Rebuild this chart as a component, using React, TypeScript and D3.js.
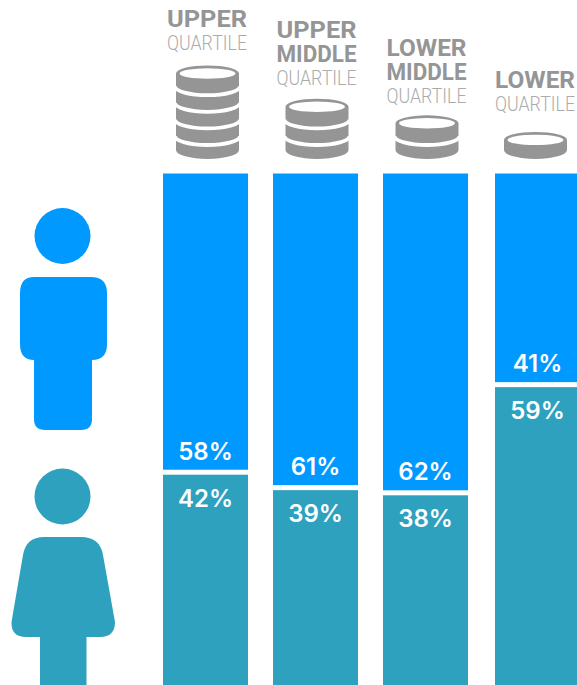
import React from "react";
import * as d3 from "d3";

const quartiles = ["upper", "upperMiddle", "lowerMiddle", "lower"];
const menShare = [58, 61, 62, 41];
const womenShare = [42, 39, 38, 59];
const titleLines = [["UPPER"], ["UPPER", "MIDDLE"], ["LOWER", "MIDDLE"], ["LOWER"]];
const subtitle = "QUARTILE";
const coinCounts = [5, 3, 2, 1];

const BLUE = "#0099ff";
const TEAL = "#2ea1bf";
const GREY = "#959595";
const LIGHT_GREY = "#ababab";

const WIDTH = 577;
const HEIGHT = 685;
const FONT = "Roboto, 'Noto Sans', sans-serif";

// A coin stack: one grey silhouette, cut by a white crescent between coins.
function Coins({ cx, bottom, count }: { cx: number; bottom: number; count: number }) {
  const rx = 31.5;
  const sag = 9;
  const pitch = 16.6;
  const lastBand = 14;
  const cy = bottom - lastBand - (count - 2) * pitch - 21.7;
  const outline = `M${cx - rx},${cy} L${cx - rx},${bottom - sag} A${rx},${sag} 0 0 0 ${cx + rx},${bottom - sag} L${cx + rx},${cy} A${rx},8 0 0 0 ${cx - rx},${cy} Z`;
  const crescents = d3.range(count - 1).map((k) => bottom - lastBand - k * pitch);
  return (
    <g>
      <path d={outline} fill={GREY} />
      {crescents.map((c) => (
        <path
          key={c}
          d={`M${cx - rx - 1},${c - sag} A${rx + 1},${sag} 0 0 0 ${cx + rx + 1},${c - sag}`}
          fill="none"
          stroke="#fff"
          strokeWidth={3.8}
        />
      ))}
      <ellipse cx={cx} cy={cy} rx={rx - 3.5} ry={5.2} fill="#fff" />
    </g>
  );
}

export default function App() {
  const x = d3.scaleOrdinal<string, number>().domain(quartiles).range([163, 273, 383, 495]);
  const header = d3.scaleOrdinal<string, number>().domain(quartiles).range([207, 316.5, 426.5, 535]);
  const subtitleBase = d3.scaleOrdinal<string, number>().domain(quartiles).range([50, 85, 103, 111]);
  const y = d3.scaleLinear().domain([0, 100]).range([173.5, 688.5]);
  const barWidth = 85;
  const gap = 2.5;

  return (
    <svg
      width={WIDTH}
      height={HEIGHT}
      viewBox={`0 0 ${WIDTH} ${HEIGHT}`}
      style={{ position: "absolute", left: 0, top: 0, display: "block" }}
      fontFamily={FONT}
    >
      {quartiles.map((q, i) => {
        const bx = x(q);
        const split = y(menShare[i]);
        const mid = bx + barWidth / 2;
        const hx = header(q);
        const base = subtitleBase(q);
        const lines = titleLines[i];
        return (
          <g key={q}>
            <rect x={bx} y={y(0)} width={barWidth} height={split - gap - y(0)} fill={BLUE} />
            <rect x={bx} y={split + gap} width={barWidth} height={y(100) - split - gap} fill={TEAL} />
            <text
              x={mid}
              y={split - 12.5}
              textAnchor="middle"
              fontFamily="Inter, sans-serif"
              fontSize={24}
              fontWeight={600}
              fill="#fff"
            >
              {menShare[i]}%
            </text>
            <text
              x={mid}
              y={split + 34.5}
              textAnchor="middle"
              fontFamily="Inter, sans-serif"
              fontSize={24}
              fontWeight={600}
              fill="#fff"
            >
              {womenShare[i]}%
            </text>
            {lines.map((line, k) => (
              <text
                key={line}
                x={hx}
                y={base - 23.5 - (lines.length - 1 - k) * 24}
                textAnchor="middle"
                fontSize={24.5}
                fontWeight={700}
                fill={GREY}
                textLength={80}
                lengthAdjust="spacingAndGlyphs"
              >
                {line}
              </text>
            ))}
            <text
              x={hx}
              y={base}
              textAnchor="middle"
              fontSize={20.5}
              fontWeight={300}
              fill={LIGHT_GREY}
              textLength={80}
              lengthAdjust="spacingAndGlyphs"
            >
              {subtitle}
            </text>
            <Coins cx={hx + 0.5} bottom={159} count={coinCounts[i]} />
          </g>
        );
      })}

      {/* man */}
      <g fill={BLUE}>
        <circle cx={62.5} cy={236} r={28} />
        <path d="M34,277 H91 Q107,277 107,293 V344 Q107,360 92,360 V419 Q92,430 81,430 H45 Q34,430 34,419 V360 Q20,360 20,344 V293 Q20,277 34,277 Z" />
      </g>

      {/* woman */}
      <g fill={TEAL}>
        <circle cx={62.5} cy={496.5} r={28} />
        <path d="M44,537 H81 Q100,537 103,555 L115,622 Q115,637 100,637 H86.500 V685 H40 V637 H26 Q11,637 11.500,622 L23,555 Q26,537 44,537 Z" />
      </g>
    </svg>
  );
}
